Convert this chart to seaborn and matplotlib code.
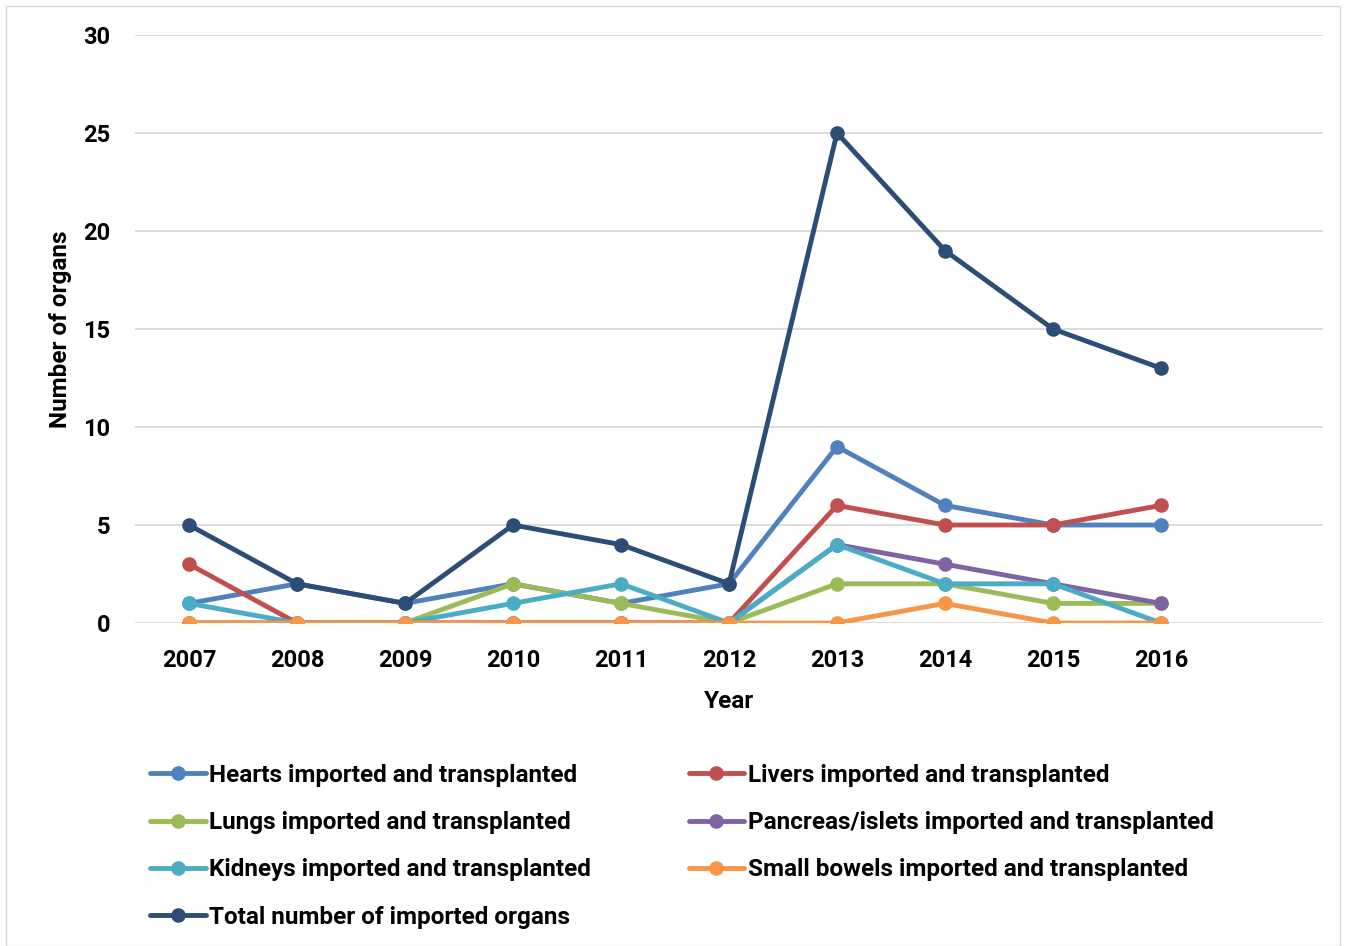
import pandas as pd
import matplotlib.pyplot as plt
import seaborn as sns

# ── Data ─────────────────────────────────────────────────────────────────────
years = ["2007", "2008", "2009", "2010", "2011", "2012", "2013", "2014", "2015", "2016"]
hearts = [1, 2, 1, 2, 1, 2, 9, 6, 5, 5]
livers = [3, 0, 0, 0, 0, 0, 6, 5, 5, 6]
lungs = [0, 0, 0, 2, 1, 0, 2, 2, 1, 1]
pancreas = [0, 0, 0, 0, 0, 0, 4, 3, 2, 1]
kidneys = [1, 0, 0, 1, 2, 0, 4, 2, 2, 0]
bowels = [0, 0, 0, 0, 0, 0, 0, 1, 0, 0]
total = [5, 2, 1, 5, 4, 2, 25, 19, 15, 13]

series = [
    ("Hearts imported and transplanted", hearts, "#4F81BD"),
    ("Livers imported and transplanted", livers, "#C0504D"),
    ("Lungs imported and transplanted", lungs, "#9BBB59"),
    ("Pancreas/islets imported and transplanted", pancreas, "#8064A2"),
    ("Kidneys imported and transplanted", kidneys, "#4BACC6"),
    ("Small bowels imported and transplanted", bowels, "#F79646"),
    ("Total number of imported organs", total, "#2C4D75"),
]

sns.set_theme(style="white")
plt.rcParams["font.family"] = ["Roboto", "DejaVu Sans"]
plt.rcParams["font.weight"] = "bold"
FS = 17.5

fig = plt.figure(figsize=(13.52, 9.46), dpi=100)
ax = fig.add_axes([135 / 1352, 1 - 623 / 946, (1323 - 135) / 1352, (623 - 35) / 946])

handles = {}
for i, (name, vals, color) in enumerate(series):
    df = pd.DataFrame({"x": range(len(years)), "y": vals})
    sns.lineplot(data=df, x="x", y="y", ax=ax, color=color, linewidth=3.5,
                 marker="o", markersize=10.5, markeredgewidth=0, zorder=3 + i,
                 label=name, legend=False)
    handles[name] = ax.lines[-1]

ax.set_xlim(-0.5, 10.5)
ax.set_ylim(0, 30)
ax.set_yticks(range(0, 31, 5))
ax.set_xticks(range(len(years)))
ax.set_xticklabels(years)
ax.yaxis.grid(True, color="#D9D9D9", linewidth=1.3)
ax.xaxis.grid(False)
for s in ax.spines.values():
    s.set_visible(False)
ax.tick_params(axis="both", labelsize=17, length=0, labelcolor="black")
ax.tick_params(axis="y", pad=18)
ax.tick_params(axis="x", pad=19)
for lbl in ax.get_xticklabels() + ax.get_yticklabels():
    lbl.set_fontweight("bold")
ax.set_xlabel("Year", fontsize=FS, fontweight="bold", labelpad=13, color="black")
ax.set_ylabel("Number of organs", fontsize=FS, fontweight="bold", labelpad=8,
              color="black")

# Excel fills the legend row by row, matplotlib column by column
order = [0, 2, 4, 6, 1, 3, 5]
hs = [handles[series[k][0]] for k in order]
ls = [series[k][0] for k in order]
fig.legend(hs, ls, loc="upper left", bbox_to_anchor=(128 / 1352, 1 - 742 / 946),
           ncol=2, frameon=False, fontsize=FS, handlelength=2.3, handletextpad=0.15,
           labelspacing=1.0, columnspacing=4.0, markerscale=1.0,
           labelcolor="black")

fig.patches.append(plt.Rectangle((6 / 1352, 0), 1334 / 1352, 1 - 6 / 946,
                                 transform=fig.transFigure, fill=False,
                                 edgecolor="#D9D9D9", linewidth=1))

fig.savefig("out.png", dpi=100)
